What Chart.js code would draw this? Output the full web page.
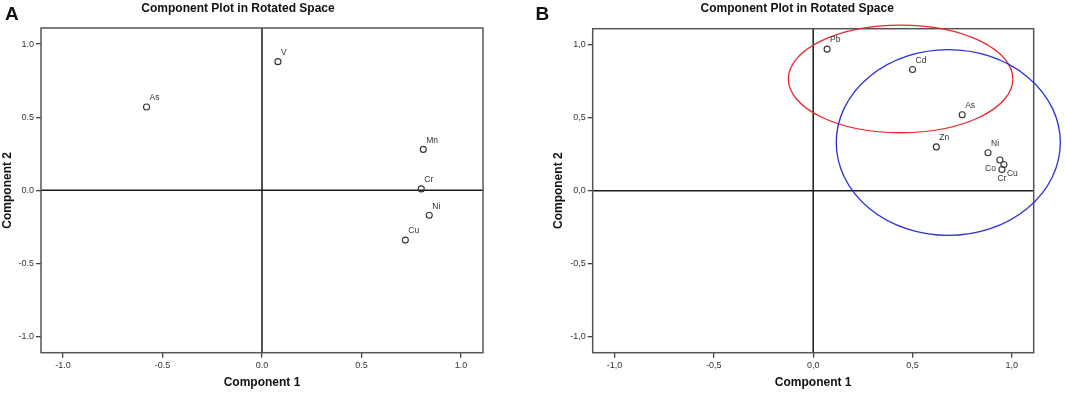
<!DOCTYPE html>
<html>
<head>
    <title>Component Plot in Rotated Space</title>
    <script src="https://cdn.jsdelivr.net/npm/chart.js"></script>
    <style>
        body { margin: 0; background: #fff; }
        .panel { position: absolute; top: 0; height: 394px; }
        #panelA { left: 0; width: 510px; }
        #panelB { left: 530px; width: 535px; }
    </style>
</head>
<body>
    <div class="panel" id="panelA"><canvas id="chartA"></canvas></div>
    <div class="panel" id="panelB"><canvas id="chartB"></canvas></div>

    <script>
        // panel A data
        const labelsA = ['As', 'V', 'Mn', 'Cr', 'Ni', 'Cu'];
        const comp1A = [-0.58, 0.08, 0.81, 0.80, 0.84, 0.72];
        const comp2A = [0.57, 0.88, 0.28, 0.01, -0.17, -0.34];

        // panel B data
        const labelsB = ['Pb', 'Cd', 'As', 'Zn', 'Ni', 'Co', 'Cu', 'Cr'];
        const comp1B = [0.07, 0.50, 0.75, 0.62, 0.88, 0.94, 0.96, 0.95];
        const comp2B = [0.97, 0.83, 0.52, 0.30, 0.26, 0.21, 0.18, 0.145];

        // ellipses drawn on panel B (data units)
        const ellipseColors = ['#e8262b', '#2b2fd6'];
        const ellipseCx = [0.44, 0.68];
        const ellipseCy = [0.766, 0.33];
        const ellipseRx = [0.565, 0.564];
        const ellipseRy = [0.369, 0.636];

        const tickValues = [-1.0, -0.5, 0.0, 0.5, 1.0];
        const axisMin = -1.11, axisMax = 1.11;

        // where a point label sits in the crowded corner of panel B (px)
        const labelPosB = {
            Co: { dx: -4, dy: 9, align: 'right' },
            Cu: { dx: 3, dy: 9, align: 'left' },
            Cr: { dx: 0, dy: 9, align: 'center' }
        };

        const fontFamily = 'Arial, "Liberation Sans", sans-serif';

        // frame, zero lines, point labels, title, panel letter
        const extras = {
            id: 'extras',
            beforeDatasetsDraw(chart, args, opts) {
                const ctx = chart.ctx;
                const a = chart.chartArea;
                const xs = chart.scales.x, ys = chart.scales.y;
                ctx.save();
                ctx.strokeStyle = '#1a1a1a';
                ctx.lineWidth = 1.5;
                ctx.beginPath();
                const x0 = xs.getPixelForValue(0), y0 = ys.getPixelForValue(0);
                ctx.moveTo(x0, a.top); ctx.lineTo(x0, a.bottom);
                ctx.moveTo(a.left, y0); ctx.lineTo(a.right, y0);
                ctx.stroke();
                ctx.strokeStyle = '#555';
                ctx.strokeRect(a.left, a.top, a.right - a.left, a.bottom - a.top);
                ctx.restore();
            },
            afterDatasetsDraw(chart, args, opts) {
                const ctx = chart.ctx;
                const a = chart.chartArea;
                const xs = chart.scales.x, ys = chart.scales.y;
                ctx.save();
                // ellipses
                (opts.ellipses || []).forEach(e => {
                    const cx = xs.getPixelForValue(e.cx), cy = ys.getPixelForValue(e.cy);
                    const rx = Math.abs(xs.getPixelForValue(e.cx + e.rx) - cx);
                    const ry = Math.abs(ys.getPixelForValue(e.cy + e.ry) - cy);
                    ctx.strokeStyle = e.color;
                    ctx.lineWidth = 1.3;
                    ctx.beginPath();
                    ctx.ellipse(cx, cy, rx, ry, 0, 0, Math.PI * 2);
                    ctx.stroke();
                });
                // point labels
                ctx.fillStyle = '#333';
                ctx.font = '8.5px ' + fontFamily;
                ctx.textBaseline = 'middle';
                const meta = chart.getDatasetMeta(0);
                const posMap = opts.labelPos || {};
                opts.labels.forEach((lab, i) => {
                    const pt = meta.data[i];
                    const p = posMap[lab] || { dx: 3, dy: -9, align: 'left' };
                    ctx.textAlign = p.align;
                    ctx.fillText(lab, pt.x + p.dx, pt.y + p.dy);
                });
                // title and panel letter
                ctx.fillStyle = '#111';
                ctx.textAlign = 'center';
                ctx.font = 'bold 12px ' + fontFamily;
                ctx.fillText('Component Plot in Rotated Space', (a.left + a.right) / 2 + opts.titleShift, 9);
                ctx.textAlign = 'left';
                ctx.font = 'bold 19px ' + fontFamily;
                ctx.fillText(opts.letter, opts.letterX, 15);
                ctx.restore();
            }
        };

        function makeChart(id, labels, xv, yv, cfg) {
            const scaleBase = (title, isX) => ({
                type: 'linear',
                min: axisMin,
                max: axisMax,
                afterBuildTicks: s => { s.ticks = tickValues.map(v => ({ value: v })); },
                afterFit: s => {
                    if (isX) s.height = 41.3; else s.width = cfg.yWidth;
                },
                ticks: {
                    color: '#333',
                    font: { size: 9, family: fontFamily },
                    padding: 2,
                    callback: v => cfg.fmt(v)
                },
                grid: { drawOnChartArea: false, drawTicks: true, tickLength: 5, color: '#444', lineWidth: 1.3 },
                border: { display: false },
                title: {
                    display: true,
                    text: title,
                    color: '#111',
                    font: { size: 12, weight: 'bold', family: fontFamily },
                    padding: isX ? { top: 0, bottom: 4 } : { top: 0, bottom: 0 }
                }
            });
            return new Chart(document.getElementById(id), {
                type: 'scatter',
                data: {
                    datasets: [{
                        data: xv.map((v, i) => ({ x: v, y: yv[i] })),
                        pointRadius: 3,
                        pointBorderWidth: 1.1,
                        borderColor: '#333',
                        backgroundColor: 'rgba(255,255,255,0)',
                        pointHoverRadius: 3
                    }]
                },
                options: {
                    responsive: true,
                    maintainAspectRatio: false,
                    animation: false,
                    layout: { padding: { top: cfg.top, left: cfg.padLeft, right: cfg.padRight, bottom: 0 } },
                    scales: {
                        x: scaleBase('Component 1', true),
                        y: scaleBase('Component 2', false)
                    },
                    plugins: {
                        legend: { display: false },
                        tooltip: { enabled: false },
                        extras: {
                            labels: labels,
                            labelPos: cfg.labelPos,
                            letter: cfg.letter,
                            letterX: cfg.letterX,
                            titleShift: cfg.titleShift,
                            ellipses: cfg.ellipses
                        }
                    }
                },
                plugins: [extras]
            });
        }

        makeChart('chartA', labelsA, comp1A, comp2A, {
            letter: 'A', letterX: 5, titleShift: -24,
            top: 28, padLeft: 0, padRight: 27, yWidth: 41,
            fmt: v => v.toFixed(1),
            labelPos: {},
            ellipses: []
        });

        makeChart('chartB', labelsB, comp1B, comp2B, {
            letter: 'B', letterX: 5.5, titleShift: -16,
            top: 28.7, padLeft: 21, padRight: 31.3, yWidth: 41.7,
            fmt: v => v.toFixed(1).replace('.', ','),
            labelPos: labelPosB,
            ellipses: ellipseColors.map((c, i) => ({
                color: c, cx: ellipseCx[i], cy: ellipseCy[i], rx: ellipseRx[i], ry: ellipseRy[i]
            }))
        });
    </script>
</body>
</html>
